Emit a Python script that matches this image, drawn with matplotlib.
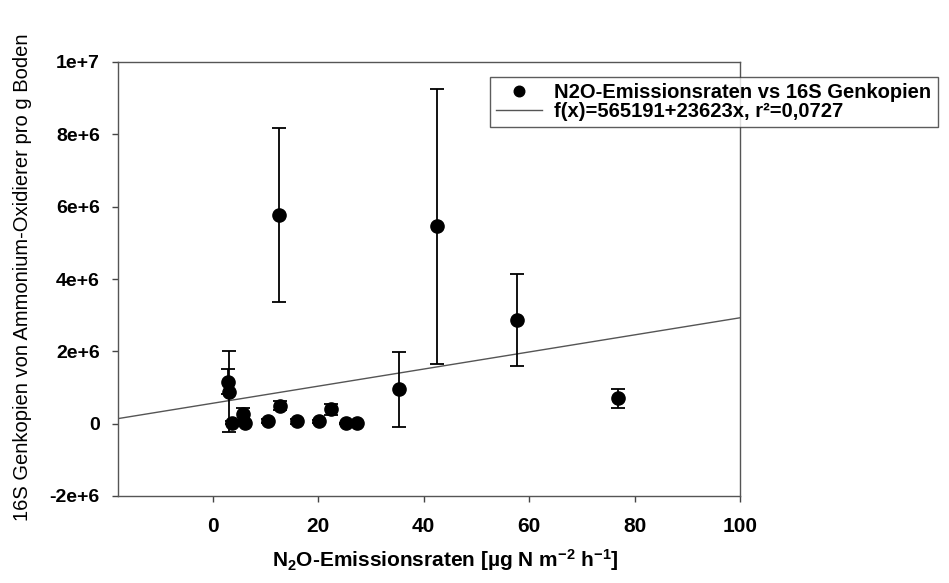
import matplotlib
matplotlib.use("Agg")
import matplotlib.pyplot as plt
import numpy as np

plt.rcParams['font.family'] = ['Liberation Sans', 'DejaVu Sans']
plt.rcParams['mathtext.fontset'] = 'custom'
plt.rcParams['mathtext.rm'] = 'Liberation Sans'
plt.rcParams['mathtext.bf'] = 'Liberation Sans:bold'
plt.rcParams['mathtext.default'] = 'bf'

# data
x_vals = [2.8, 3.1, 3.6, 5.7, 6.1, 10.5, 12.5, 12.8, 16.0, 20.2, 22.5, 25.2, 27.3, 35.4, 42.5, 57.7, 76.8]
y_vals = [1.16e6, 0.88e6, 0.03e6, 0.27e6, 0.03e6, 0.08e6, 5.77e6, 0.50e6, 0.06e6, 0.06e6,
          0.40e6, 0.01e6, 0.01e6, 0.95e6, 5.46e6, 2.87e6, 0.70e6]
y_err = [0.35e6, 1.12e6, 0.05e6, 0.17e6, 0.05e6, 0.05e6, 2.40e6, 0.12e6, 0.06e6, 0.05e6,
         0.15e6, 0.02e6, 0.02e6, 1.03e6, 3.80e6, 1.28e6, 0.26e6]
fit_a = 565191
fit_b = 23623
y_ticks = [-2e6, 0, 2e6, 4e6, 6e6, 8e6, 1e7]
y_ticklabels = ['-2e+6', '0', '2e+6', '4e+6', '6e+6', '8e+6', '1e+7']
x_ticks = [0, 20, 40, 60, 80, 100]

fig = plt.figure(figsize=(9.49, 5.83), dpi=100)
ax = fig.add_axes([118/949, (583-496)/583, (740-118)/949, (496-62)/583])

xlim = (-18, 100)
ax.set_xlim(*xlim)
ax.set_ylim(-2e6, 1e7)

xl = np.array(xlim)
line, = ax.plot(xl, fit_a + fit_b * xl, color='#555555', lw=1.0, zorder=2)

eb = ax.errorbar(x_vals, y_vals, yerr=y_err, fmt='o', color='black', ms=9.5,
                 ecolor='black', elinewidth=1.3, capsize=5.3, capthick=1.3, zorder=3)

ax.set_xticks(x_ticks)
ax.set_xticklabels([str(t) for t in x_ticks], fontsize=15, fontweight='bold')
ax.set_yticks(y_ticks)
ax.set_yticklabels(y_ticklabels, fontsize=14, fontweight='bold')
ax.tick_params(direction='out', length=4, width=1, color='#444444')
ax.tick_params(axis='y', pad=9)
ax.tick_params(axis='x', pad=11)
for s in ax.spines.values():
    s.set_color('#555555')
    s.set_linewidth(1)

fig.text(445/949, 1 - 560/583, r'N$_2$O-Emissionsraten [µg N m$^{-2}$ h$^{-1}$]',
         fontsize=15, fontweight='bold', ha='center', va='center')
fig.text(23/949, 1 - 277/583, '16S Genkopien von Ammonium-Oxidierer pro g Boden',
         fontsize=14.5, rotation=90, ha='center', va='center')

leg = fig.legend([eb.lines[0], line],
                 ['N2O-Emissionsraten vs 16S Genkopien', 'f(x)=565191+23623x, r²=0,0727'],
                 loc='upper left', bbox_to_anchor=(490/949, 1 - 77/583), borderaxespad=0,
                 frameon=True, fancybox=False, edgecolor='#333333',
                 prop={'size': 14.5, 'weight': 'bold'}, handlelength=2.3, markerscale=0.8,
                 borderpad=0.3, labelspacing=0.0, handletextpad=0.6)
leg.get_frame().set_linewidth(1)

fig.savefig('out.png', dpi=100)
